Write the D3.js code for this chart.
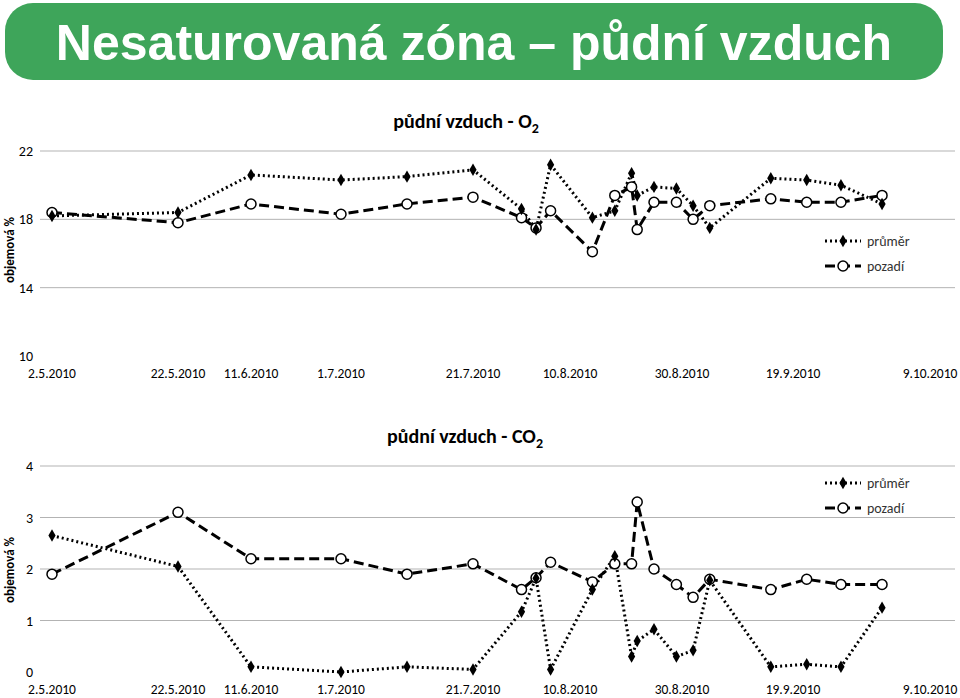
<!DOCTYPE html><html><head><meta charset="utf-8"><script src="https://cdn.jsdelivr.net/npm/d3@7"></script>
<style>body{margin:0;background:#fff}text{font-family:Calibri,Carlito,"Open Sans",Arial,sans-serif}</style></head><body>
<svg id="c" width="960" height="698"></svg>
<script>
const tickLabels=["2.5.2010","22.5.2010","11.6.2010","1.7.2010","21.7.2010","10.8.2010","30.8.2010","19.9.2010","9.10.2010"];
const dates=["2.5.2010","22.5.2010","11.6.2010","1.7.2010","11.7.2010","21.7.2010","31.7.2010","3.8.2010","6.8.2010","14.8.2010","18.8.2010","21.8.2010","22.8.2010","25.8.2010","29.8.2010","1.9.2010","4.9.2010","15.9.2010","21.9.2010","26.9.2010","2.10.2010"];
const o2Prumer=[18.2,18.4,20.6,20.3,20.5,20.9,18.6,17.4,21.2,18.1,18.5,20.7,19.4,19.9,19.8,18.8,17.5,20.4,20.3,20.0,18.9];
const o2Pozadi=[18.4,17.8,18.9,18.3,18.9,19.3,18.1,17.5,18.5,16.1,19.4,19.9,17.4,19.0,19.0,18.0,18.8,19.2,19.0,19.0,19.4];
const co2Prumer=[2.65,2.05,0.1,0,0.1,0.05,1.17,1.82,0.05,1.6,2.25,0.3,0.6,0.83,0.3,0.42,1.78,0.1,0.15,0.1,1.25];
const co2Pozadi=[1.9,3.1,2.2,2.2,1.9,2.1,1.6,1.83,2.13,1.75,2.1,2.1,3.3,2.0,1.7,1.45,1.8,1.6,1.8,1.7,1.7];
const o2Ticks=[10,14,18,22], co2Ticks=[0,1,2,3,4];
const parse=d3.timeParse("%d.%m.%Y");
const svg=d3.select("#c");
const x=d3.scaleTime().domain(tickLabels.map(parse)).range([52,178,251,341,473,570,682,793,930]);
svg.append("rect").attr("x",5).attr("y",3).attr("width",938).attr("height",77).attr("rx",28).attr("fill","#3ea55a");
svg.append("text").attr("x",474).attr("y",60).attr("text-anchor","middle").attr("fill","#fff").attr("font-size",50).attr("font-weight","bold").style("font-family","Liberation Sans,Arial").text("Nesaturovaná zóna – půdní vzduch");
function chart(cfg){
 const y=d3.scaleLinear().domain(cfg.dom).range(cfg.rng);
 const g=svg.append("g");
 cfg.ticks.forEach(t=>{
  if(t!==cfg.dom[0]) g.append("line").attr("x1",40).attr("x2",955).attr("y1",y(t)).attr("y2",y(t)).attr("stroke","#b3b3b3");
  g.append("text").attr("x",cfg.lx).attr("y",y(t)+5).attr("text-anchor","end").attr("font-size",14).text(t);
 });
 tickLabels.forEach(t=>g.append("text").attr("x",x(parse(t))).attr("y",cfg.rng[0]+22).attr("text-anchor","middle").attr("font-size",13.5).text(t));
 g.append("text").attr("transform",`translate(14,${cfg.ay}) rotate(-90)`).attr("text-anchor","middle").attr("font-size",13).attr("font-weight","bold").text("objemová %");
 const t=g.append("text").attr("x",cfg.tx).attr("y",cfg.ty).attr("text-anchor","middle").attr("font-size",20).attr("font-weight","bold");
 t.append("tspan").text(cfg.title);t.append("tspan").attr("dy",5).attr("font-size",14).text("2");
 const pts=dates.map(parse);
 const line=d3.line().x((d,i)=>x(pts[i])).y(d=>y(d));
 g.append("path").attr("d",line(cfg.pz)).attr("fill","none").attr("stroke","#000").attr("stroke-width",3).attr("stroke-dasharray","10,5");
 g.append("path").attr("d",line(cfg.pr)).attr("fill","none").attr("stroke","#000").attr("stroke-width",3).attr("stroke-dasharray","2,3");
 cfg.pz.forEach((d,i)=>g.append("circle").attr("cx",x(pts[i])).attr("cy",y(d)).attr("r",5).attr("fill","#fff").attr("stroke","#000").attr("stroke-width",1.5));
 const dia=d3.symbol(d3.symbolDiamond,45);
 cfg.pr.forEach((d,i)=>g.append("path").attr("d",dia()).attr("transform",`translate(${x(pts[i])},${y(d)})`).attr("fill","#000"));
 cfg.leg.forEach((ly,k)=>{
  g.append("line").attr("x1",cfg.legx).attr("x2",cfg.legx+36).attr("y1",ly).attr("y2",ly).attr("stroke","#000").attr("stroke-width",3).attr("stroke-dasharray",k?"10,5":"2,3");
  if(k) g.append("circle").attr("cx",cfg.legx+18).attr("cy",ly).attr("r",5).attr("fill","#fff").attr("stroke","#000").attr("stroke-width",1.5);
  else g.append("path").attr("d",dia()).attr("transform",`translate(${cfg.legx+18},${ly})`);
  g.append("text").attr("x",cfg.legx+42).attr("y",ly+5).attr("font-size",14).attr("fill","#333").text(k?"pozadí":"průměr");
 });
}
chart({dom:[10,22],rng:[356,151],ticks:o2Ticks,lx:33,ay:250,title:"půdní vzduch - O",tx:466,ty:128,pr:o2Prumer,pz:o2Pozadi,leg:[241,266],legx:825});
chart({dom:[0,4],rng:[672,466],ticks:co2Ticks,lx:33,ay:570,title:"půdní vzduch - CO",tx:465,ty:443,pr:co2Prumer,pz:co2Pozadi,leg:[483,508],legx:825});
</script></body></html>
